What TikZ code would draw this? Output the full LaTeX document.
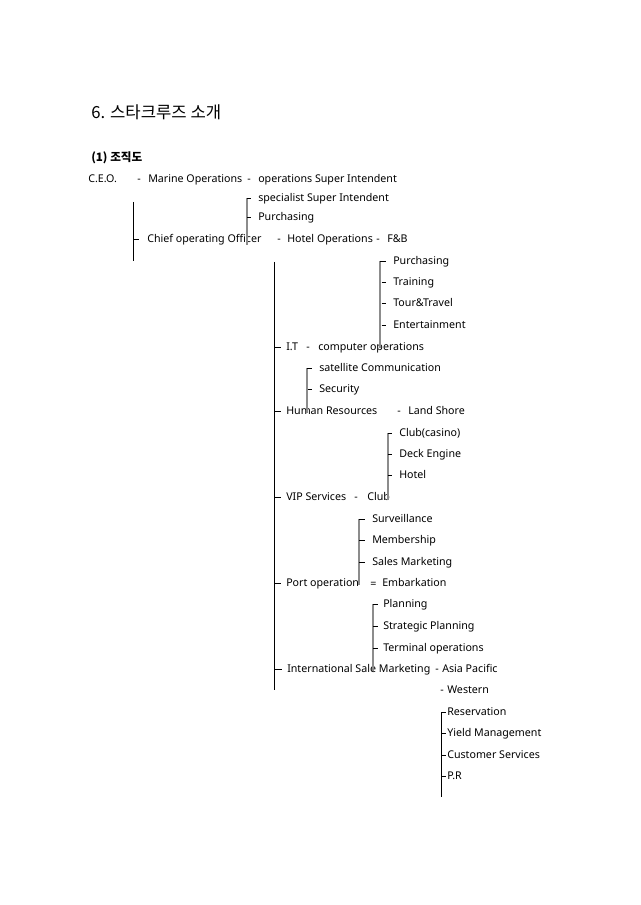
\documentclass[tikz,border=0pt]{standalone}
\usepackage{fontspec}
\setmainfont{Noto Sans}
\newfontfamily\kr{Noto Sans CJK KR}
\begin{document}
\begin{tikzpicture}[x=0.75pt,y=-0.75pt,
  txt/.style={anchor=mid west,inner sep=0pt,font=\fontsize{8pt}{10pt}\selectfont},
  blk/.style={draw=black,line width=0.75pt},
  gry/.style={draw=black!45,line width=1.1pt},
  tick/.style={draw=black,line width=0.6pt}]
\useasboundingbox[fill=white] (0,0) rectangle (640,905);
% headings
\node[txt,font=\kr\fontsize{12.5pt}{14pt}\selectfont] (title) at (91,115) {6. 스타크루즈 소개};
\node[txt,font=\kr\bfseries\fontsize{8.7pt}{10pt}\selectfont] (sub) at (91,158) {(1) 조직도};
% row 1
\node[txt] (ceo) at (88,179) {C.E.O.};
\node[txt] (d1) at (137,179) {-};
\node[txt] (marine) at (148,179) {Marine Operations};
\node[txt] (d2) at (247,179) {-};
\node[txt] (opsi) at (258,179) {operations Super Intendent};
\node[txt] (spec) at (258,198) {specialist Super Intendent};
\node[txt] (purch1) at (258,217) {Purchasing};
% row chief
\node[txt] (coo) at (147,239) {Chief operating Officer};
\node[txt] (d3) at (277,239) {-};
\node[txt] (hotelops) at (287,239) {Hotel Operations};
\node[txt] (d4) at (376,239) {-};
\node[txt] (fb) at (387,239) {F\&B};
% hotel sub items
\node[txt] (purch2) at (393,261) {Purchasing};
\node[txt] (train) at (393,282) {Training};
\node[txt] (tour) at (393,303) {Tour\&Travel};
\node[txt] (ent) at (393,325) {Entertainment};
% IT
\node[txt] (it) at (286,347) {I.T};
\node[txt] (d5) at (306,347) {-};
\node[txt] (comp) at (318,347) {computer operations};
\node[txt] (sat) at (319,368) {satellite Communication};
\node[txt] (sec) at (319,389) {Security};
% HR
\node[txt] (hr) at (286,411) {Human Resources};
\node[txt] (d6) at (397,411) {-};
\node[txt] (land) at (408,411) {Land Shore};
\node[txt] (casino) at (399,433) {Club(casino)};
\node[txt] (deck) at (399,454) {Deck Engine};
\node[txt] (hotel) at (399,475) {Hotel};
% VIP
\node[txt] (vip) at (286,497) {VIP Services};
\node[txt] (d7) at (354,497) {-};
\node[txt] (club) at (367,497) {Club};
\node[txt] (surv) at (372,519) {Surveillance};
\node[txt] (memb) at (372,540) {Membership};
\node[txt] (sales) at (372,562) {Sales Marketing};
% Port
\node[txt] (port) at (286,583) {Port operation};
\node[txt] (d8) at (370,584) {=};
\node[txt] (emb) at (382,583) {Embarkation};
\node[txt] (plan) at (383,604) {Planning};
\node[txt] (strat) at (383,626) {Strategic Planning};
\node[txt] (term) at (383,648) {Terminal operations};
% International
\node[txt] (intl) at (287,669) {International Sale Marketing};
\node[txt] (d9) at (435,669) {-};
\node[txt] (asia) at (442,669) {Asia Pacific};
\node[txt] (d10) at (440,690) {-};
\node[txt] (west) at (447,690) {Western};
\node[txt] (resv) at (447,712) {Reservation};
\node[txt] (yield) at (447,733) {Yield Management};
\node[txt] (cust) at (447,755) {Customer Services};
\node[txt] (pr) at (447,776) {P.R};
% vertical lines
\coordinate (v0t) at (133,202); \coordinate (v0b) at (133,261);
\draw[blk] (v0t) -- (v0b);
\coordinate (v1t) at (247,198); \coordinate (v1b) at (247,245);
\draw[gry] (v1t) -- (v1b);
\coordinate (v2t) at (274,262); \coordinate (v2b) at (274,690);
\draw[blk] (v2t) -- (v2b);
\coordinate (v3t) at (380,261); \coordinate (v3b) at (380,348);
\draw[gry] (v3t) -- (v3b);
\coordinate (v4t) at (307,368); \coordinate (v4b) at (307,413);
\draw[gry] (v4t) -- (v4b);
\coordinate (v5t) at (388,433); \coordinate (v5b) at (388,500);
\draw[gry] (v5t) -- (v5b);
\coordinate (v6t) at (359,519); \coordinate (v6b) at (359,585);
\draw[gry] (v6t) -- (v6b);
\coordinate (v7t) at (373,604); \coordinate (v7b) at (373,671);
\draw[gry] (v7t) -- (v7b);
\coordinate (v8t) at (441,712); \coordinate (v8b) at (441,797);
\draw[blk] (v8t) -- (v8b);
% ticks
\draw[tick] (133,239) -- ([xshift=-6pt]coo.mid west);
\draw[tick] (v1t) -- ([xshift=-5pt]spec.mid west);
\draw[tick] (247,217) -- ([xshift=-5pt]purch1.mid west);
\draw[tick] (v3t) -- ([xshift=-5pt]purch2.mid west);
\foreach \n in {train,tour,ent}
  \draw[tick] ([xshift=-8.5pt]\n.mid west) -- ([xshift=-5pt]\n.mid west);
\foreach \n in {it,hr,vip,port,intl}
  \draw[tick] (274,0 |- \n.mid west) -- ([xshift=-4pt]\n.mid west);
\draw[tick] (v4t) -- ([xshift=-5pt]sat.mid west);
\draw[tick] ([xshift=-8.5pt]sec.mid west) -- ([xshift=-5pt]sec.mid west);
\draw[tick] (v5t) -- ([xshift=-5pt]casino.mid west);
\foreach \n in {deck,hotel}
  \draw[tick] ([xshift=-8.5pt]\n.mid west) -- ([xshift=-5pt]\n.mid west);
\draw[tick] (v6t) -- ([xshift=-5pt]surv.mid west);
\foreach \n in {memb,sales}
  \draw[tick] ([xshift=-9.5pt]\n.mid west) -- ([xshift=-5pt]\n.mid west);
\draw[tick] (v7t) -- ([xshift=-4pt]plan.mid west);
\foreach \n in {strat,term}
  \draw[tick] ([xshift=-7.5pt]\n.mid west) -- ([xshift=-4pt]\n.mid west);
\draw[tick] (v8t) -- ([xshift=-1pt]resv.mid west);
\foreach \n in {yield,cust,pr}
  \draw[tick] ([xshift=-4.5pt]\n.mid west) -- ([xshift=-1pt]\n.mid west);
\end{tikzpicture}
\end{document}
